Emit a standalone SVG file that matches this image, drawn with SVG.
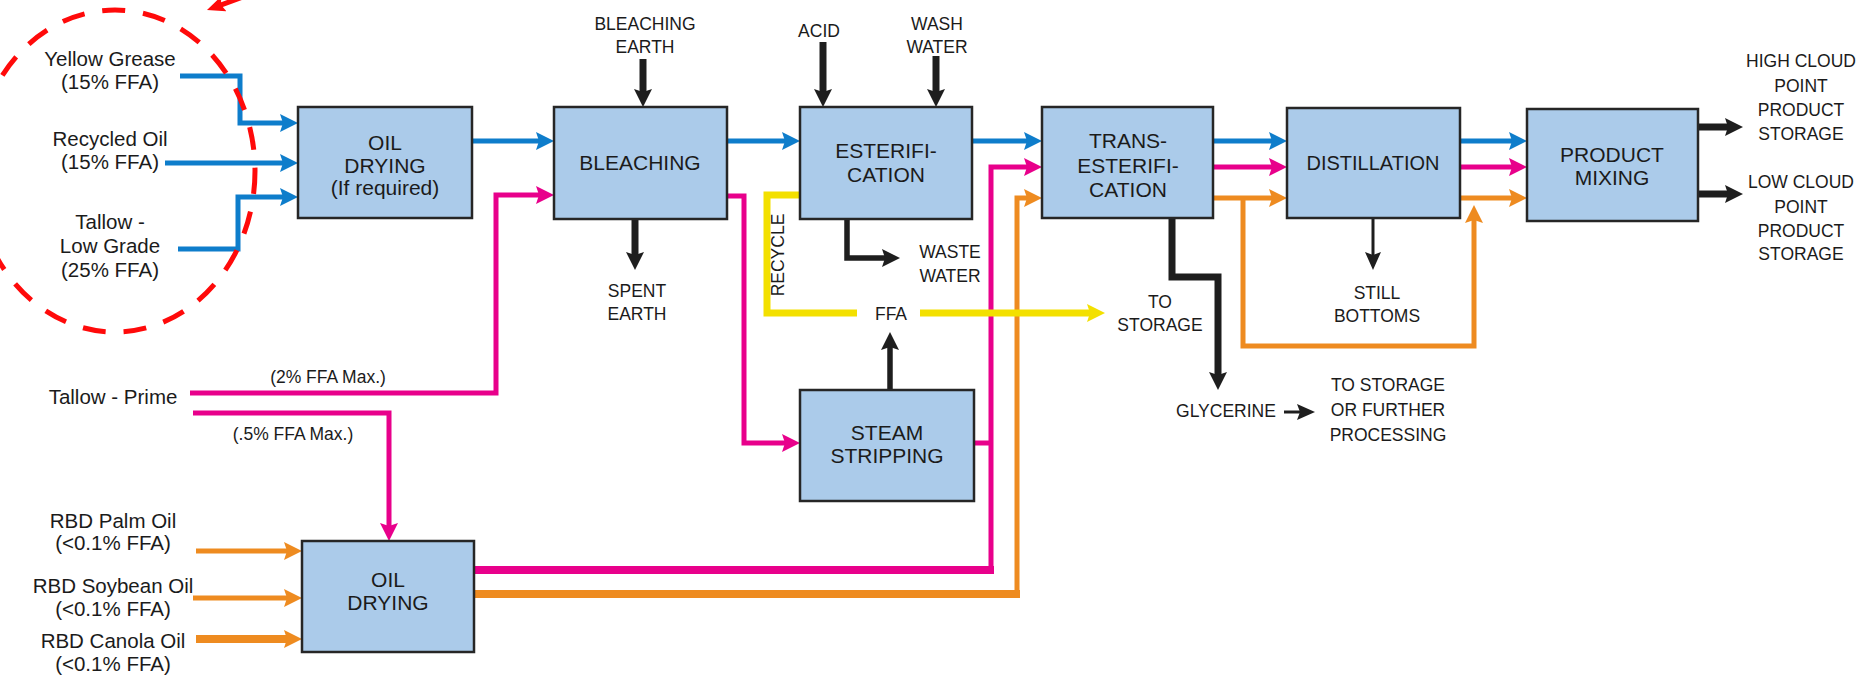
<svg xmlns="http://www.w3.org/2000/svg" width="1864" height="686" viewBox="0 0 1864 686">
<defs>
<style>
text{font-family:"Liberation Sans",Arial,Helvetica,sans-serif;fill:#1b1b1b;text-anchor:middle}
.box{fill:#abcbea;stroke:#262626;stroke-width:2.5}
.bt{font-size:21px}
.sl{font-size:20.5px}
.cap{font-size:17.5px}
.c{fill:none;stroke-linejoin:miter;stroke-linecap:butt}
.blue{stroke:#0e7dcb;stroke-width:5}
.pink{stroke:#e8008b;stroke-width:5}
.pinkw{stroke:#e8008b;stroke-width:8}
.orng{stroke:#ee8b20;stroke-width:5}
.orngw{stroke:#ee8b20;stroke-width:8}
.yell{stroke:#f3e000;stroke-width:7}
.blk{stroke:#1e1e1e;stroke-width:7}
.blkm{stroke:#1e1e1e;stroke-width:5.5}
.blkt{stroke:#1e1e1e;stroke-width:3}
.red{stroke:#ff0a0a;stroke-width:5}
</style>
<marker id="ab" viewBox="0 0 18 18" markerWidth="18" markerHeight="18" refX="10" refY="9" orient="auto" markerUnits="userSpaceOnUse"><path d="M0,0 L18,9 L0,18 L3,9 Z" fill="#0e7dcb"/></marker>
<marker id="ap" viewBox="0 0 18 18" markerWidth="18" markerHeight="18" refX="10" refY="9" orient="auto" markerUnits="userSpaceOnUse"><path d="M0,0 L18,9 L0,18 L3,9 Z" fill="#e8008b"/></marker>
<marker id="ao" viewBox="0 0 18 18" markerWidth="18" markerHeight="18" refX="10" refY="9" orient="auto" markerUnits="userSpaceOnUse"><path d="M0,0 L18,9 L0,18 L3,9 Z" fill="#ee8b20"/></marker>
<marker id="ay" viewBox="0 0 18 18" markerWidth="18" markerHeight="18" refX="10" refY="9" orient="auto" markerUnits="userSpaceOnUse"><path d="M0,0 L18,9 L0,18 L3,9 Z" fill="#f3e000"/></marker>
<marker id="ak" viewBox="0 0 18 18" markerWidth="18" markerHeight="18" refX="10" refY="9" orient="auto" markerUnits="userSpaceOnUse"><path d="M0,0 L18,9 L0,18 L3,9 Z" fill="#1e1e1e"/></marker>
<marker id="akt" viewBox="0 0 18 16" markerWidth="18" markerHeight="16" refX="10" refY="8" orient="auto" markerUnits="userSpaceOnUse"><path d="M0,0 L18,8 L0,16 L3,8 Z" fill="#1e1e1e"/></marker>
<marker id="ar" viewBox="0 0 18 16" markerWidth="18" markerHeight="16" refX="10" refY="8" orient="auto" markerUnits="userSpaceOnUse"><path d="M0,0 L18,8 L0,16 L3,8 Z" fill="#ff0a0a"/></marker>
</defs>
<rect width="1864" height="686" fill="#ffffff"/>

<g id="connectors">
<!-- blue -->
<path class="c blue" d="M180,76 H240 V123 H290" marker-end="url(#ab)"/>
<path class="c blue" d="M165,163 H290" marker-end="url(#ab)"/>
<path class="c blue" d="M178,249 H238 V197 H290" marker-end="url(#ab)"/>
<path class="c blue" d="M472,141 H546" marker-end="url(#ab)"/>
<path class="c blue" d="M727,141 H792" marker-end="url(#ab)"/>
<path class="c blue" d="M972,141 H1034" marker-end="url(#ab)"/>
<path class="c blue" d="M1213,141 H1279" marker-end="url(#ab)"/>
<path class="c blue" d="M1460,141 H1519" marker-end="url(#ab)"/>
<!-- pink -->
<path class="c pink" d="M190,393 H496 V195 H546" marker-end="url(#ap)"/>
<path class="c pink" d="M193,413 H389 V533" marker-end="url(#ap)"/>
<path class="c pink" d="M727,196 H744 V443 H792" marker-end="url(#ap)"/>
<path class="c pink" d="M974,443 H991"/>
<path class="c pinkw" d="M474,570 H994"/>
<path class="c pink" d="M991,574 V167 H1034" marker-end="url(#ap)"/>
<path class="c pink" d="M1213,167 H1279" marker-end="url(#ap)"/>
<path class="c pink" d="M1460,167 H1519" marker-end="url(#ap)"/>
<!-- orange -->
<path class="c orng" d="M196,551 H294" marker-end="url(#ao)"/>
<path class="c orng" d="M193,598 H294" marker-end="url(#ao)"/>
<path class="c orngw" d="M196,639 H294" marker-end="url(#ao)"/>
<path class="c orngw" d="M474,594 H1020"/>
<path class="c orng" d="M1017,598 V198 H1034" marker-end="url(#ao)"/>
<path class="c orng" d="M1213,198 H1279" marker-end="url(#ao)"/>
<path class="c orng" d="M1460,198 H1519" marker-end="url(#ao)"/>
<path class="c orng" d="M1243,198 V346 H1474 V213" marker-end="url(#ao)"/>
<!-- yellow -->
<path class="c yell" d="M800,195 H767 V313 H857"/>
<path class="c yell" d="M920,313 H1097" marker-end="url(#ay)"/>
<!-- black -->
<path class="c blk" d="M643,59 V99" marker-end="url(#ak)"/>
<path class="c blk" d="M823,42 V99" marker-end="url(#ak)"/>
<path class="c blk" d="M936,56 V99" marker-end="url(#ak)"/>
<path class="c blk" d="M635,219 V262" marker-end="url(#ak)"/>
<path class="c blkm" d="M847,219 V258 H892" marker-end="url(#ak)"/>
<path class="c blkm" d="M890,390 V340" marker-end="url(#ak)"/>
<path class="c blk" d="M1172,218 V277 H1218 V382" marker-end="url(#ak)"/>
<path class="c blkt" d="M1373,218 V262" marker-end="url(#akt)"/>
<path class="c blkt" d="M1284,412 H1307" marker-end="url(#akt)"/>
<path class="c blk" d="M1698,127 H1735" marker-end="url(#ak)"/>
<path class="c blk" d="M1698,194 H1735" marker-end="url(#ak)"/>
<!-- red highlight -->
<ellipse class="c red" cx="115" cy="171" rx="140" ry="161" stroke-dasharray="23 18"/>
<path class="c red" d="M262,-10 L214.5,7.3" marker-end="url(#ar)"/>
</g>

<g id="oil-drying-1"><rect class="box" x="298" y="107" width="174" height="111"/><text class="bt" x="385" y="150">OIL</text><text class="bt" x="385" y="173">DRYING</text><text class="bt" x="385" y="195">(If required)</text></g>
<g id="bleaching"><rect class="box" x="554" y="107" width="173" height="112"/><text class="bt" x="640" y="170">BLEACHING</text></g>
<g id="esterification"><rect class="box" x="800" y="107" width="172" height="112"/><text class="bt" x="886" y="158">ESTERIFI-</text><text class="bt" x="886" y="182">CATION</text></g>
<g id="trans-esterification"><rect class="box" x="1042" y="107" width="171" height="111"/><text class="bt" x="1128" y="148">TRANS-</text><text class="bt" x="1128" y="173">ESTERIFI-</text><text class="bt" x="1128" y="197">CATION</text></g>
<g id="distillation"><rect class="box" x="1287" y="108" width="173" height="110"/><text class="bt" x="1373" y="170" style="font-size:20px">DISTILLATION</text></g>
<g id="product-mixing"><rect class="box" x="1527" y="109" width="171" height="112"/><text class="bt" x="1612" y="162">PRODUCT</text><text class="bt" x="1612" y="185">MIXING</text></g>
<g id="steam-stripping"><rect class="box" x="800" y="390" width="174" height="111"/><text class="bt" x="887" y="440">STEAM</text><text class="bt" x="887" y="463">STRIPPING</text></g>
<g id="oil-drying-2"><rect class="box" x="302" y="541" width="172" height="111"/><text class="bt" x="388" y="587">OIL</text><text class="bt" x="388" y="610">DRYING</text></g>

<g id="feed-yellow-grease"><text class="sl" x="110" y="66">Yellow Grease</text><text class="sl" x="110" y="89">(15% FFA)</text></g>
<g id="feed-recycled-oil"><text class="sl" x="110" y="146">Recycled Oil</text><text class="sl" x="110" y="169">(15% FFA)</text></g>
<g id="feed-tallow-low"><text class="sl" x="110" y="229">Tallow -</text><text class="sl" x="110" y="253">Low Grade</text><text class="sl" x="110" y="277">(25% FFA)</text></g>
<g id="feed-tallow-prime"><text class="sl" x="113" y="404">Tallow - Prime</text><text class="cap" x="328" y="383">(2% FFA Max.)</text><text class="cap" x="293" y="440">(.5% FFA Max.)</text></g>
<g id="feed-palm"><text class="sl" x="113" y="528">RBD Palm Oil</text><text class="sl" x="113" y="550">(&lt;0.1% FFA)</text></g>
<g id="feed-soybean"><text class="sl" x="113" y="593">RBD Soybean Oil</text><text class="sl" x="113" y="616">(&lt;0.1% FFA)</text></g>
<g id="feed-canola"><text class="sl" x="113" y="648">RBD Canola Oil</text><text class="sl" x="113" y="671">(&lt;0.1% FFA)</text></g>

<g id="bleaching-earth"><text class="cap" x="645" y="30">BLEACHING</text><text class="cap" x="645" y="53">EARTH</text></g>
<g id="acid"><text class="cap" x="819" y="37">ACID</text></g>
<g id="wash-water"><text class="cap" x="937" y="30">WASH</text><text class="cap" x="937" y="53">WATER</text></g>
<g id="spent-earth"><text class="cap" x="637" y="297">SPENT</text><text class="cap" x="637" y="320">EARTH</text></g>
<g id="waste-water"><text class="cap" x="950" y="258">WASTE</text><text class="cap" x="950" y="282">WATER</text></g>
<g id="recycle"><text class="cap" transform="translate(784,255) rotate(-90)" x="0" y="0">RECYCLE</text></g>
<g id="ffa"><text class="cap" x="891" y="320">FFA</text></g>
<g id="to-storage"><text class="cap" x="1160" y="308">TO</text><text class="cap" x="1160" y="331">STORAGE</text></g>
<g id="still-bottoms"><text class="cap" x="1377" y="299">STILL</text><text class="cap" x="1377" y="322">BOTTOMS</text></g>
<g id="glycerine"><text class="cap" x="1226" y="417">GLYCERINE</text></g>
<g id="to-storage-further"><text class="cap" x="1388" y="391">TO STORAGE</text><text class="cap" x="1388" y="416">OR FURTHER</text><text class="cap" x="1388" y="441">PROCESSING</text></g>
<g id="high-cloud"><text class="cap" x="1801" y="67">HIGH CLOUD</text><text class="cap" x="1801" y="92">POINT</text><text class="cap" x="1801" y="116">PRODUCT</text><text class="cap" x="1801" y="140">STORAGE</text></g>
<g id="low-cloud"><text class="cap" x="1801" y="188">LOW CLOUD</text><text class="cap" x="1801" y="213">POINT</text><text class="cap" x="1801" y="237">PRODUCT</text><text class="cap" x="1801" y="260">STORAGE</text></g>
</svg>
